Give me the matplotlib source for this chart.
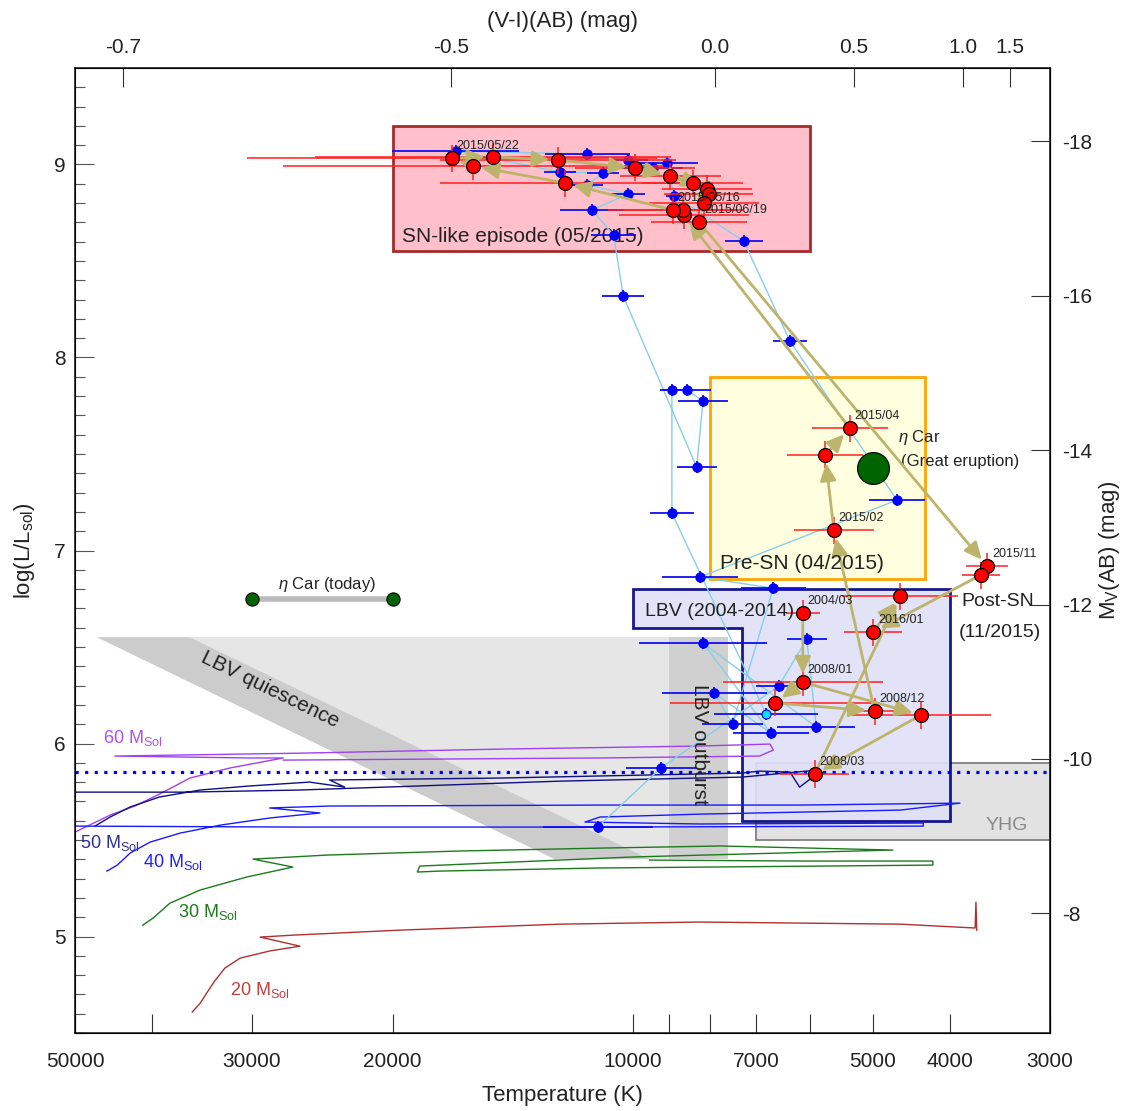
import numpy as np
import matplotlib
matplotlib.use('Agg')
import matplotlib.pyplot as plt
from matplotlib.patches import Polygon, Rectangle

plt.rcParams['font.family'] = ['Liberation Sans', 'DejaVu Sans']
plt.rcParams['mathtext.fontset'] = 'custom'
plt.rcParams['mathtext.rm'] = 'Liberation Sans'
plt.rcParams['mathtext.it'] = 'Liberation Sans:italic'
plt.rcParams['mathtext.bf'] = 'Liberation Sans:bold'

# ---------------- data ----------------
# red points (log Teff, log L/Lsun, log Teff error [dex], date label)
red_logT = [3.787, 3.787, 3.822, 3.697, 3.639, 3.772, 3.665, 3.699, 3.748, 3.759, 3.728,
            3.936, 3.937, 3.950, 4.085, 4.200, 4.227, 4.175, 4.094, 3.997, 3.953, 3.925,
            3.907, 3.905, 3.911, 3.917, 3.556, 3.564]
red_logL = [6.676, 6.318, 6.210, 6.168, 6.147, 5.842, 6.764, 6.577, 7.106, 7.495, 7.634,
            8.738, 8.764, 8.764, 8.904, 8.992, 9.033, 9.039, 9.023, 8.982, 8.940, 8.904,
            8.873, 8.847, 8.800, 8.702, 6.919, 6.873]
red_err = [0.021, 0.100, 0.132, 0.035, 0.088, 0.043, 0.073, 0.036, 0.050, 0.048, 0.048,
           0.081, 0.075, 0.081, 0.157, 0.238, 0.257, 0.223, 0.148, 0.075, 0.063, 0.063,
           0.056, 0.056, 0.069, 0.060, 0.026, 0.024]
red_labels = ['2004/03', '2008/01', '', '2008/12', '', '2008/03', '', '2016/01', '2015/02', '',
              '2015/04', '', '', '2015/05/16', '', '', '2015/05/22', '', '', '', '', '',
              '', '', '', '2015/06/19', '2015/11', '']
red_arrows = [(0, 1), (1, 2), (2, 3), (1, 4), (4, 5), (5, 6), (3, 8), (8, 9), (9, 10),
              (10, 11), (13, 14), (14, 15), (15, 16), (16, 17), (17, 18), (18, 19),
              (19, 20), (20, 21), (21, 22), (24, 25), (25, 26), (27, 7), (7, 6)]

# blue points in sequence order (log Teff, log L, log Teff error)
blue_logT = [4.044, 3.965, 3.817, 3.782, 3.770, 3.912, 3.827, 3.898, 3.875, 3.824, 3.916,
             3.669, 3.803, 3.861, 3.948, 3.957, 3.975, 4.006, 4.057, 4.222, 4.091, 4.037,
             4.057, 4.006, 4.051, 4.024, 4.012, 3.920, 3.912, 3.932, 3.951, 3.951, 3.833]
blue_logL = [5.567, 5.873, 6.298, 6.541, 6.085, 6.520, 6.054, 6.261, 6.101, 6.805, 6.862,
             7.261, 8.085, 8.603, 8.837, 9.007, 8.982, 9.023, 9.054, 9.070, 8.961, 8.956,
             8.894, 8.847, 8.764, 8.634, 8.318, 7.432, 7.774, 7.831, 7.831, 7.194, 6.153]
blue_err = [0.069, 0.044, 0.028, 0.025, 0.049, 0.080, 0.048, 0.066, 0.038, 0.041, 0.048,
            0.035, 0.021, 0.024, 0.010, 0.039, 0.038, 0.025, 0.053, 0.080, 0.020, 0.020,
            0.020, 0.021, 0.040, 0.028, 0.026, 0.025, 0.031, 0.030, 0.015, 0.028, 0.065]

# evolutionary tracks (log Teff, log L)
trk60_logT = [4.699, 4.678, 4.655, 4.624, 4.593, 4.555, 4.505, 4.438, 4.480, 4.649, 4.417,
              4.166, 3.916, 3.828, 3.824, 3.841, 4.041, 4.438]
trk60_logL = [5.541, 5.583, 5.629, 5.676, 5.738, 5.821, 5.873, 5.925, 5.925, 5.935, 5.950,
              5.971, 5.987, 5.997, 5.966, 5.935, 5.925, 5.914]
trk50_logT = [4.674, 4.655, 4.630, 4.593, 4.542, 4.480, 4.405, 4.361, 4.380, 4.166, 3.863,
              3.841, 3.803, 3.791, 3.776, 3.769, 3.863, 4.091, 4.417, 4.561, 4.699]
trk50_logL = [5.572, 5.619, 5.671, 5.723, 5.759, 5.780, 5.800, 5.774, 5.811, 5.821, 5.847,
              5.857, 5.852, 5.774, 5.821, 5.862, 5.826, 5.805, 5.759, 5.748, 5.748]
trk40_logT = [4.659, 4.646, 4.630, 4.605, 4.567, 4.517, 4.455, 4.392, 4.455, 4.380, 4.041,
              3.791, 3.590, 3.665, 3.916, 4.041, 4.060, 3.916, 3.636, 3.636, 4.041, 4.417,
              4.699]
trk40_logL = [5.339, 5.370, 5.432, 5.489, 5.536, 5.577, 5.614, 5.640, 5.666, 5.676, 5.681,
              5.681, 5.691, 5.655, 5.634, 5.619, 5.593, 5.583, 5.588, 5.572, 5.567, 5.567,
              5.572]
trk30_logT = [4.614, 4.601, 4.580, 4.542, 4.484, 4.426, 4.476, 4.383, 4.217, 4.041, 3.891,
              3.674, 4.001, 4.267, 4.270, 4.242, 4.041, 3.624, 3.624, 3.791, 3.979]
trk30_logL = [5.059, 5.096, 5.173, 5.241, 5.308, 5.360, 5.401, 5.422, 5.443, 5.458, 5.469,
              5.448, 5.412, 5.365, 5.334, 5.339, 5.355, 5.370, 5.391, 5.391, 5.396]
trk20_logT = [4.552, 4.542, 4.534, 4.524, 4.511, 4.492, 4.455, 4.417, 4.467, 4.426, 4.292,
              4.091, 3.916, 3.665, 3.571, 3.570, 3.569]
trk20_logL = [4.609, 4.655, 4.707, 4.769, 4.837, 4.888, 4.925, 4.950, 4.997, 5.007, 5.033,
              5.064, 5.075, 5.064, 5.044, 5.178, 5.033]

# regions
sn_box_T = [20000, 6000]
sn_box_L = [8.55, 9.20]
presn_box_T = [8000, 4300]
presn_box_L = [6.85, 7.90]
lbv_poly_T = [10000, 4000, 4000, 7300, 7300, 10000]
lbv_poly_L = [6.80, 6.80, 5.60, 5.60, 6.60, 6.60]
yhg_box_T = [7000, 3000]
yhg_box_L = [5.50, 5.90]
quies_light_T = [46900, 7600, 7600, 12520]
quies_light_L = [6.55, 6.55, 5.40, 5.40]
quies_band_T = [46900, 35900, 9520, 12520]
quies_band_L = [6.55, 6.55, 5.40, 5.40]
outburst_T = [9000, 7600]
outburst_L = [5.40, 6.55]
hd_limit_L = 5.85
etacar_today_T = [30000, 20000]
etacar_today_L = [6.75, 6.75]
etacar_great_T = 5000
etacar_great_L = 7.43

# top axis (V-I)(AB) colour ticks and their temperatures
vi_labels = ['-0.7', '-0.5', '0.0', '0.5', '1.0', '1.5']
vi_teff = [43540, 16900, 7889, 5283, 3857, 3368]
# right axis ticks
mv_ticks = [-18, -16, -14, -12, -10, -8]
# bottom axis
t_ticks = [50000, 40000, 30000, 20000, 10000, 9000, 8000, 7000, 6000, 5000, 4000, 3000]
t_labels = ['50000', '', '30000', '20000', '10000', '', '', '7000', '', '5000', '4000', '3000']

# ---------------- plot ----------------
fig = plt.figure(figsize=(11.28, 11.11), dpi=100)
ax = fig.add_axes([0.0665, 0.0702, 0.8644, 0.8686])
ax.set_xscale('log')
ax.set_xlim(50000, 3000)
ax.set_ylim(4.5, 9.5)

# gray regions
ax.add_patch(Polygon(list(zip(quies_light_T, quies_light_L)), closed=True,
                     facecolor='#E6E6E6', edgecolor='none', zorder=0.5))
ax.add_patch(Polygon(list(zip(quies_band_T, quies_band_L)), closed=True,
                     facecolor='#CCCCCC', edgecolor='none', zorder=0.6))
ax.add_patch(Rectangle((outburst_T[1], outburst_L[0]), outburst_T[0] - outburst_T[1],
                       outburst_L[1] - outburst_L[0], facecolor='#D0D0D0',
                       edgecolor='none', zorder=0.6))

# boxes
ax.add_patch(Rectangle((sn_box_T[1], sn_box_L[0]), sn_box_T[0] - sn_box_T[1],
                       sn_box_L[1] - sn_box_L[0], facecolor='#FFC0CB',
                       edgecolor='#A52A2A', lw=2, zorder=1))
ax.add_patch(Rectangle((presn_box_T[1], presn_box_L[0]), presn_box_T[0] - presn_box_T[1],
                       presn_box_L[1] - presn_box_L[0], facecolor='#FFFFE0',
                       edgecolor='#FFA500', lw=2, zorder=1))
ax.add_patch(Rectangle((yhg_box_T[1], yhg_box_L[0]), yhg_box_T[0] - yhg_box_T[1],
                       yhg_box_L[1] - yhg_box_L[0], facecolor='#E2E2E2',
                       edgecolor='#808080', lw=1.3, zorder=1))
ax.add_patch(Polygon(list(zip(lbv_poly_T, lbv_poly_L)), closed=True,
                     facecolor='#E0E0F8', edgecolor='#000080', lw=2, alpha=0.9, zorder=1.1))

# region labels
ax.text(19460, 8.629, 'SN-like episode (05/2015)', fontsize=15, ha='left', va='center',
        color='#222222', zorder=2.9)
ax.text(7780, 6.935, 'Pre-SN (04/2015)', fontsize=15, ha='left', va='center',
        color='#222222', zorder=6)
ax.text(9660, 6.686, 'LBV (2004-2014)', fontsize=14, ha='left', va='center',
        color='#222222', zorder=6)
ax.text(3486, 6.738, 'Post-SN', fontsize=14, ha='center', va='center', color='#222222',
        zorder=6)
ax.text(3470, 6.577, '(11/2015)', fontsize=14, ha='center', va='center', color='#222222',
        zorder=6)
ax.text(3397, 5.577, 'YHG', fontsize=14, ha='center', va='center', color='#888888', zorder=6)
ax.text(28510, 6.277, 'LBV quiescence', fontsize=15, ha='center', va='center',
        rotation=-26, rotation_mode='anchor', color='#222222', zorder=6)
ax.text(8240, 5.997, 'LBV outburst', fontsize=15, ha='center', va='center',
        rotation=-90, color='#222222', zorder=6)

# tracks
tracks = [(trk60_logT, trk60_logL, '#A040F0', '60', 46130, 6.028, '#B050F0'),
          (trk50_logT, trk50_logL, '#101080', '50', 49320, 5.484, '#303090'),
          (trk40_logT, trk40_logL, '#1A1AFF', '40', 41110, 5.386, '#2020FF'),
          (trk30_logT, trk30_logL, '#1E7A1E', '30', 37150, 5.127, '#1E7A1E'),
          (trk20_logT, trk20_logL, '#B03030', '20', 31990, 4.722, '#C04040')]
for lt, ll, col, mass, tx, ty, tcol in tracks:
    ax.plot(10 ** np.array(lt), ll, color=col, lw=1.0, zorder=2)
    ax.text(tx, ty, mass + r' M$_{\rm Sol}$', fontsize=13, color=tcol, ha='left',
            va='center', zorder=6)

# Humphreys-Davidson like dotted line
ax.axhline(hd_limit_L, color='#0000FF', lw=2.3, ls=(0, (1, 2)), zorder=2.5)

# eta Car
ax.plot(etacar_today_T, etacar_today_L, color='#BBBBBB', lw=4, zorder=3)
ax.plot(etacar_today_T, etacar_today_L, 'o', ms=9.5, mfc='#006400', mec='black', mew=0.8,
        zorder=3.1, ls='none')
ax.text(24150, 6.826, r'$\eta$ Car (today)', fontsize=12, ha='center', va='center',
        color='#222222')
ax.plot([etacar_great_T], [etacar_great_L], 'o', ms=23, mfc='#006400', mec='black',
        mew=0.8, zorder=3.1)
ax.text(4652, 7.583, r'$\eta$ Car', fontsize=12, ha='left', va='center', color='#222222')
ax.text(4613, 7.463, '(Great eruption)', fontsize=12, ha='left', va='center',
        color='#222222')

# blue points
bT = 10 ** np.array(blue_logT)
bL = np.array(blue_logL)
be = np.array(blue_err)
ax.plot(bT, bL, color='#87CEEB', lw=1.0, zorder=3)
bx_err = [bT - 10 ** (np.array(blue_logT) - be), 10 ** (np.array(blue_logT) + be) - bT]
ax.errorbar(bT, bL, xerr=bx_err, yerr=0.03, fmt='none', ecolor='#1010F0', elinewidth=1.3,
            capsize=0, zorder=3.2)
ax.plot(bT[:-1], bL[:-1], 'o', ms=6.5, mfc='#0000FF', mec='#0000FF', ls='none', zorder=3.4)
ax.plot(bT[-1:], bL[-1:], 'o', ms=6.5, mfc='#00E5FF', mec='#0000FF', mew=0.8, ls='none',
        zorder=3.4)

# red points
rT = 10 ** np.array(red_logT)
rL = np.array(red_logL)
re = np.array(red_err)
rx_err = [rT - 10 ** (np.array(red_logT) - re), 10 ** (np.array(red_logT) + re) - rT]
ax.errorbar(rT, rL, xerr=rx_err, yerr=0.07, fmt='none', ecolor='#FF2020', elinewidth=1.3,
            capsize=0, alpha=0.85, zorder=3.5)
arrow_col = '#BDB46C'
for i, j in red_arrows:
    ax.annotate('', xy=(rT[j], rL[j]), xytext=(rT[i], rL[i]),
                arrowprops=dict(arrowstyle='-|>,head_length=0.9,head_width=0.42',
                                color=arrow_col, lw=2.0, shrinkA=0, shrinkB=6,
                                mutation_scale=11.5), zorder=4)
ax.plot(rT, rL, 'o', ms=10, mfc='#FF0000', mec='black', mew=0.9, ls='none', zorder=5)
for t, l, lab in zip(rT, rL, red_labels):
    if lab:
        ax.annotate(lab, xy=(t, l), xytext=(3.5, 8.5), textcoords='offset points',
                    fontsize=9, ha='left', va='center', color='#222222', zorder=6)

# axes styling
ax.set_xticks(t_ticks)
ax.set_xticklabels(t_labels)
ax.xaxis.set_minor_locator(matplotlib.ticker.NullLocator())
ax.set_yticks([5, 6, 7, 8, 9])
ax.set_yticklabels(['5', '6', '7', '8', '9'])
ax.yaxis.set_minor_locator(matplotlib.ticker.MultipleLocator(0.1))
ax.tick_params(axis='x', which='major', direction='in', length=14, width=0.8,
               labelsize=15, pad=14, top=False, colors='#333333', labelcolor='#222222')
ax.tick_params(axis='y', which='major', direction='in', length=14, width=0.8,
               labelsize=15, pad=7, right=False, colors='#555555', labelcolor='#222222')
ax.tick_params(axis='y', which='minor', direction='in', length=7, width=0.8,
               right=False, colors='#555555')
for s in ax.spines.values():
    s.set_linewidth(1.2)
    s.set_color('#222222')
ax.set_xlabel('Temperature (K)', fontsize=16, labelpad=10, color='#222222')
ax.set_ylabel(r'log(L/L$_{\rm sol}$)', fontsize=16, labelpad=12, color='#222222')

# top axis
axt = ax.twiny()
axt.set_xscale('log')
axt.set_xlim(ax.get_xlim())
axt.set_xticks(vi_teff)
axt.set_xticklabels(vi_labels)
axt.xaxis.set_minor_locator(matplotlib.ticker.NullLocator())
axt.tick_params(axis='x', direction='in', length=14, width=0.8, labelsize=15, pad=8,
                colors='#333333', labelcolor='#222222')
axt.set_xlabel('(V-I)(AB) (mag)', fontsize=16, labelpad=8, color='#222222')

# right axis (absolute magnitude)
axr = ax.secondary_yaxis('right', functions=(lambda l: 4.8 - 2.5 * l,
                                             lambda m: (4.8 - m) / 2.5))
axr.set_yticks(mv_ticks)
axr.set_yticklabels([str(m) for m in mv_ticks])
axr.tick_params(axis='y', direction='in', length=14, width=0.8, labelsize=15, pad=9,
                colors='#333333', labelcolor='#222222')
axr.set_ylabel(r'M$_{\rm V}$(AB) (mag)', fontsize=16, labelpad=3, color='#222222')

fig.savefig('out.png', dpi=100)
